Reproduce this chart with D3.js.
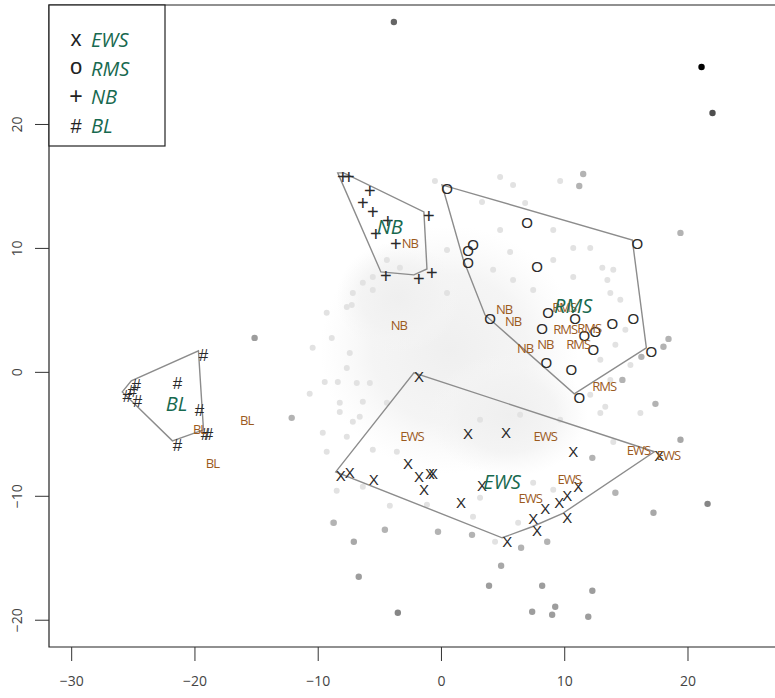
<!DOCTYPE html>
<html>
<head>
<meta charset="utf-8">
<script src="https://cdn.jsdelivr.net/npm/d3@7"></script>
<style>
  body { margin: 0; background: #fff; }
  svg { display: block; font-family: "Open Sans", sans-serif; }
</style>
</head>
<body>
<div id="chart"></div>
<script>
// Groups, legend symbols and plotting glyphs
const groups = ["EWS", "RMS", "NB", "BL"];
const legendSymbols = ["x", "o", "+", "#"];
const plotGlyphs = ["X", "O", "+", "#"];

// Labelled samples per group (x, y)
const ewsPts = [[-1.79,-0.40],[2.20,-5.00],[5.28,-4.92],[-8.13,-8.39],[-7.40,-8.15],[-5.45,-8.71],
  [-2.68,-7.42],[-1.79,-8.47],[-0.89,-8.23],[-0.65,-8.23],[-1.38,-9.52],[1.63,-10.56],[3.33,-9.19],
  [5.37,-13.71],[10.73,-6.45],[17.72,-6.77],[11.14,-9.27],[10.24,-10.00],[9.59,-10.56],[8.46,-11.05],
  [7.48,-11.85],[10.24,-11.77],[7.80,-12.82]];
const rmsPts = [[0.49,14.76],[6.99,12.02],[2.60,10.24],[2.20,9.76],[2.20,8.79],[7.80,8.47],[15.93,10.32],
  [3.98,4.27],[8.70,4.76],[10.89,4.27],[13.90,3.87],[15.61,4.27],[8.21,3.47],[11.63,2.90],[12.52,3.23],
  [12.36,1.77],[17.07,1.61],[8.54,0.73],[10.57,0.16],[11.22,-2.10]];
const nbPts = [[-7.97,15.73],[-7.48,15.73],[-5.77,14.60],[-6.34,13.63],[-5.53,12.90],[-4.31,12.18],
  [-5.28,11.13],[-3.66,10.32],[-0.98,12.58],[-4.47,7.74],[-1.79,7.50],[-0.73,7.98]];
const blPts = [[-19.27,1.37],[-21.38,-0.89],[-24.72,-1.05],[-25.04,-1.53],[-25.45,-1.94],[-24.63,-2.34],
  [-19.59,-3.06],[-19.11,-5.00],[-18.86,-5.00],[-21.38,-5.89]];
const groupPts = [ewsPts, rmsPts, nbPts, blPts];

// Group centres (big green labels)
const groupCentres = [[4.96,-8.87],[10.73,5.32],[-4.15,11.69],[-21.46,-2.58]];

// Predicted labels of other samples
const predLabels = ["NB","NB","NB","NB","NB","NB","RMS","RMS","RMS","RMS","RMS",
  "EWS","EWS","EWS","EWS","EWS","EWS","BL","BL","BL"];
const predPts = [[-2.52,10.32],[-3.41,3.71],[5.12,5.00],[5.85,4.03],[6.83,1.85],[8.46,2.18],
  [10.00,5.16],[10.08,3.39],[12.03,3.47],[11.14,2.18],[13.25,-1.21],
  [-2.36,-5.24],[8.46,-5.24],[16.02,-6.37],[18.46,-6.77],[10.41,-8.71],[7.24,-10.24],
  [-19.59,-4.68],[-15.77,-3.95],[-18.54,-7.42]];

// Background genes: density blobs (centre, spread), sparse points and outliers
const cloudBlobs = [[0.7,1.8,10.5,10.0],[5.5,-3.5,6.5,5.0],[-3.5,6.0,5.0,4.5]];
const faintPts = [[-9.27,4.76],[-10.41,1.94],[-10.65,-1.77],[-9.43,-0.81],[-9.59,-4.92],[-9.27,-6.45],
  [-7.64,0.32],[-8.86,2.74],[-0.49,15.40],[-7.64,5.24],[-7.15,6.37],[-5.53,6.61],[-3.33,8.39],
  [0.49,9.84],[0.49,6.37],[3.33,13.71],[4.80,15.73],[5.85,15.08],[6.83,13.63],[9.67,15.40],
  [10.73,7.66],[13.74,6.37],[13.09,8.39],[12.11,10.00],[9.11,11.45],[4.80,11.45],[5.61,9.68],
  [4.23,8.23],[9.11,9.03],[7.48,6.61],[5.85,7.42],[13.98,8.23],[14.55,5.81],[12.93,-3.31],
  [16.18,-3.31],[-4.15,-10.81],[-8.46,-9.60],[6.26,-12.18],[2.60,-11.69],[-6.34,-9.27],
  [-1.14,-10.73],[3.17,-10.16],[7.48,-8.95],[9.11,-9.52],[-8.37,-0.81],[-8.21,-3.23],
  [-7.15,-4.03],[-8.78,-12.18],[4.39,-13.71],[-5.77,-0.89],[-6.34,-2.42],[-3.58,-6.45],
  [10.73,10.00],[13.50,7.42],[13.98,-5.65],[13.33,-2.82],
  [-7.24,5.40],[-6.34,7.18],[-4.39,9.03],[-5.53,7.66],[-7.40,1.53],[-6.83,-0.89],[-8.21,-2.50],
  [-6.59,-3.63],[-7.64,-5.24],[-5.53,-6.29],[-4.39,-2.50],[12.93,0.97],[14.15,2.18],[14.96,3.39],
  [12.11,-1.85],[9.67,-3.87],[6.42,-3.47],[3.17,-3.87],[13.74,-0.65],[15.37,0.56]];
const outlierPts = [[-3.82,28.23],[21.14,24.60],[22.03,20.89],[21.63,-10.65],[-3.50,-19.44],
  [-15.12,2.74],[11.95,-19.76],[9.02,-19.60],[9.27,-18.95],[7.40,-19.35],[12.28,-17.66],
  [8.21,-17.26],[3.90,-17.26],[4.88,-15.65],[-6.67,-16.53],[-7.07,-13.71],[-8.70,-12.18],
  [17.24,-11.37],[14.15,-9.76],[19.43,-5.48],[17.40,-2.58],[19.43,11.21],[11.54,15.97],
  [11.22,15.00],[-12.11,-3.71],[6.50,-14.19],[8.62,-13.71],[2.52,-13.15],[-0.24,-12.90],
  [-4.55,-12.74],[12.28,-6.94],[18.46,2.66],[18.05,2.02],[16.26,1.21],[14.72,-0.65]];
const outlierShade = [0.55,1.0,0.65,0.4,0.4,0.3,0.3,0.3,0.3,0.3,0.3,0.3,0.3,0.25,0.3,0.25,0.2,
  0.25,0.2,0.25,0.2,0.2,0.2,0.2,0.2,0.2,0.2,0.2,0.2,0.2,0.2,0.2,0.2,0.2,0.2];

const xTicks = [-30, -20, -10, 0, 10, 20];
const yTicks = [-20, -10, 0, 10, 20];

const W = 775, H = 698;
const plot = { left: 49, top: 5, bottom: 647, right: 775 };
const glyphFont = "Liberation Sans, Arial, sans-serif";
const glyphSize = { "X": 15, "O": 15, "+": 20, "#": 17 };

const svg = d3.select("#chart").append("svg").attr("width", W).attr("height", H);

const x = d3.scaleLinear().domain([-31.8, 27.1]).range([plot.left, plot.right]);
const y = d3.scaleLinear().domain([-22.2, 29.6]).range([plot.bottom, plot.top]);

const defs = svg.append("defs");
const grad = defs.append("radialGradient").attr("id", "cloud");
grad.append("stop").attr("offset", "0%").attr("stop-color", "#efefef").attr("stop-opacity", 1);
grad.append("stop").attr("offset", "60%").attr("stop-color", "#f2f2f2").attr("stop-opacity", 0.8);
grad.append("stop").attr("offset", "100%").attr("stop-color", "#f6f6f6").attr("stop-opacity", 0);

defs.append("clipPath").attr("id", "clip").append("rect")
  .attr("x", plot.left).attr("y", plot.top)
  .attr("width", plot.right - plot.left + 40).attr("height", plot.bottom - plot.top);

const bg = svg.append("g").attr("clip-path", "url(#clip)");

// density cloud
bg.selectAll("ellipse.cloud").data(cloudBlobs).join("ellipse")
  .attr("cx", d => x(d[0])).attr("cy", d => y(d[1]))
  .attr("rx", d => x(d[0] + d[2]) - x(d[0]))
  .attr("ry", d => y(d[1]) - y(d[1] + d[3]))
  .attr("fill", "url(#cloud)");

bg.selectAll("circle.faint").data(faintPts).join("circle")
  .attr("cx", d => x(d[0])).attr("cy", d => y(d[1])).attr("r", 3)
  .attr("fill", "#e2e2e2");

const shade = d3.scaleLinear().domain([0, 1]).range(["#e0e0e0", "#000000"]);
bg.selectAll("circle.out").data(outlierPts).join("circle")
  .attr("cx", d => x(d[0])).attr("cy", d => y(d[1])).attr("r", 3.2)
  .attr("fill", (d, i) => shade(outlierShade[i]));

// convex hulls
const hullG = svg.append("g").attr("transform", "translate(-5,-4)");
groupPts.forEach(pts => {
  const hull = d3.polygonHull(pts.map(p => [x(p[0]), y(p[1])]));
  hullG.append("path")
    .attr("d", "M" + hull.join("L") + "Z")
    .attr("fill", "none").attr("stroke", "#8c8c8c").attr("stroke-width", 1.4);
});

// glyphs
groupPts.forEach((pts, gi) => {
  const g = plotGlyphs[gi], fs = glyphSize[g];
  svg.append("g").selectAll("text").data(pts).join("text")
    .attr("x", d => x(d[0])).attr("y", d => y(d[1]) + fs * 0.36)
    .attr("text-anchor", "middle")
    .attr("font-family", glyphFont)
    .attr("font-size", fs).attr("fill", "#2a2a2a")
    .text(g);
});

// predicted labels
svg.append("g").selectAll("text").data(predPts).join("text")
  .attr("x", d => x(d[0])).attr("y", d => y(d[1]) + 4.5)
  .attr("text-anchor", "middle")
  .attr("font-size", 13).attr("letter-spacing", -1)
  .attr("fill", "#9b5a1e")
  .text((d, i) => predLabels[i]);

// group names
svg.append("g").selectAll("text").data(groupCentres).join("text")
  .attr("x", d => x(d[0])).attr("y", d => y(d[1]) + 7)
  .attr("text-anchor", "middle")
  .attr("font-size", 20).attr("font-style", "italic")
  .attr("fill", "#17694f")
  .text((d, i) => groups[i]);

// frame
svg.append("path")
  .attr("d", `M${W + 5},${plot.top}H${plot.left}V${plot.bottom}H${W + 5}`)
  .attr("fill", "none").attr("stroke", "#222").attr("stroke-width", 1.2);

// axes
const fmt = d => d < 0 ? "\u2212" + Math.abs(d) : d;
const xAxis = svg.append("g").attr("transform", `translate(0,${plot.bottom})`)
  .call(d3.axisBottom(x).tickValues(xTicks).tickSize(14).tickSizeOuter(0).tickFormat(fmt));
xAxis.select(".domain").remove();
xAxis.selectAll("line").attr("stroke", "#333");
xAxis.selectAll("text").attr("font-size", 14).attr("fill", "#444")
  .attr("font-family", "Open Sans, sans-serif").attr("y", 34).attr("dy", "0.35em");

const yAxis = svg.append("g").attr("transform", `translate(${plot.left},0)`)
  .call(d3.axisLeft(y).tickValues(yTicks).tickSize(14).tickSizeOuter(0).tickFormat(fmt));
yAxis.select(".domain").remove();
yAxis.selectAll("line").attr("stroke", "#333");
yAxis.selectAll("text").attr("font-size", 14).attr("fill", "#444")
  .attr("font-family", "Open Sans, sans-serif")
  .attr("x", null)
  .attr("text-anchor", "middle")
  .attr("transform", "translate(-24,0) rotate(-90)")
  .attr("y", 0).attr("dy", "-0.2em");

// legend
const leg = svg.append("g");
leg.append("rect").attr("x", plot.left).attr("y", plot.top).attr("width", 116).attr("height", 141)
  .attr("fill", "#fff").attr("stroke", "#222").attr("stroke-width", 1.2);
const rowY = d3.scalePoint().domain(groups).range([40, 126]);
const legSize = { "x": 22, "o": 22, "+": 23, "#": 20 };
groups.forEach((g, i) => {
  const s = legendSymbols[i];
  leg.append("text").attr("x", 76).attr("y", rowY(g) + (s === "x" || s === "o" ? 5.5 : 7))
    .attr("text-anchor", "middle")
    .attr("font-family", glyphFont)
    .attr("font-size", legSize[s]).attr("fill", "#222")
    .text(s);
  leg.append("text").attr("x", 91).attr("y", rowY(g) + 7)
    .attr("font-size", 20).attr("font-style", "italic").attr("fill", "#17694f")
    .text(g);
});
</script>
</body>
</html>
